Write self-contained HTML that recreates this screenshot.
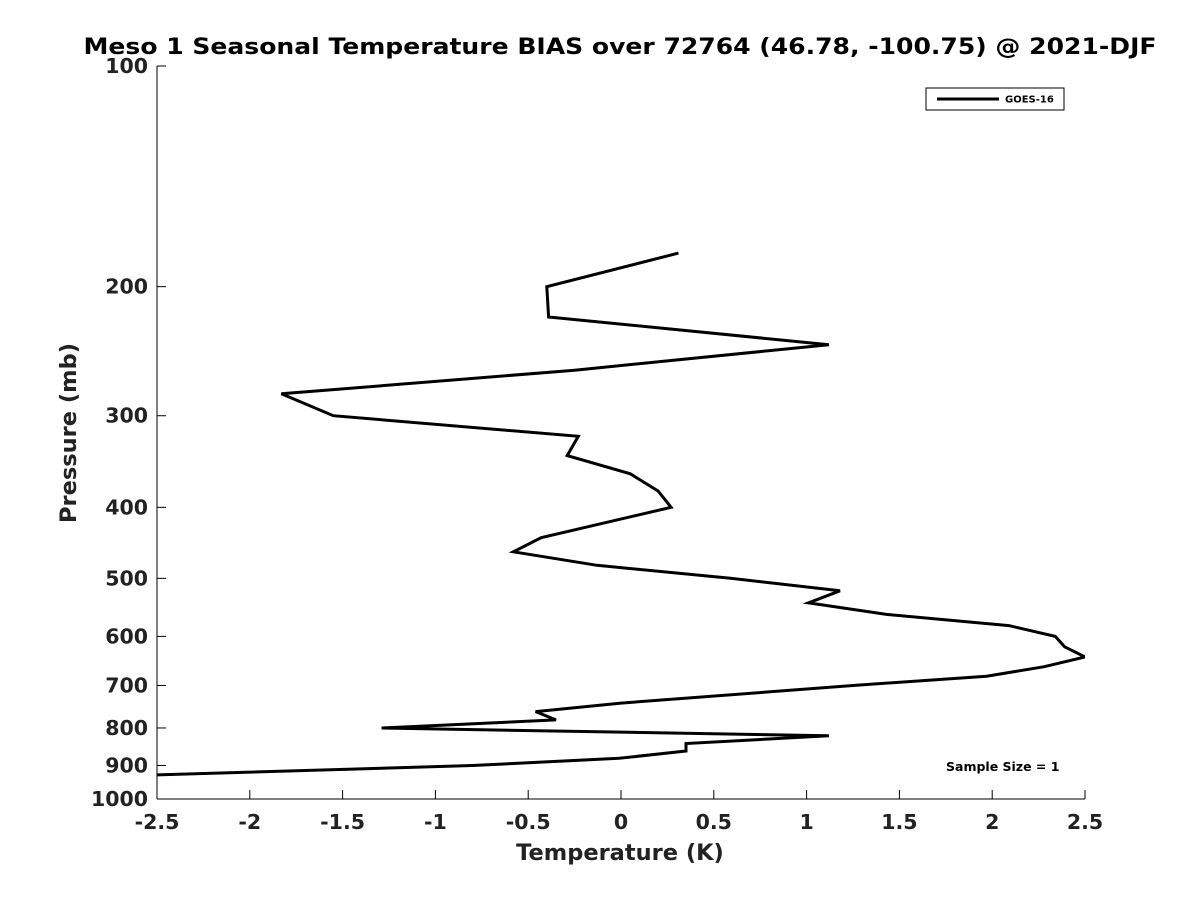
<!DOCTYPE html>
<html><head><meta charset="utf-8">
<style>
html,body{margin:0;padding:0;background:#fff;}
svg{display:block;font-family:"DejaVu Sans","Liberation Sans",sans-serif;}
</style></head>
<body>
<svg id="chart" width="1200" height="900" xmlns="http://www.w3.org/2000/svg">
  <rect x="0" y="0" width="1200" height="900" fill="#fff"/>
  <text x="620" y="54" text-anchor="middle" font-size="22" font-weight="bold" textLength="1073" lengthAdjust="spacingAndGlyphs">Meso 1 Seasonal Temperature BIAS over 72764 (46.78, -100.75) @ 2021-DJF</text>
  <defs><clipPath id="plotclip"><rect x="157" y="66" width="928" height="733"/></clipPath></defs>
  <g id="axes"></g>
  <g id="series" clip-path="url(#plotclip)"></g>
  <text x="620" y="860" text-anchor="middle" font-size="22.5" font-weight="bold" fill="#222">Temperature (K)</text>
  <text transform="translate(76,433) rotate(-90)" text-anchor="middle" font-size="22.5" font-weight="bold" fill="#222">Pressure (mb)</text>
  <g>
    <rect x="926" y="88" width="138" height="22" fill="#fff" stroke="#000" stroke-width="1"/>
    <line x1="937" y1="99" x2="999" y2="99" stroke="#000" stroke-width="3"/>
    <text x="1005" y="102.5" font-size="10" font-weight="bold">GOES-16</text>
  </g>
  <text x="946" y="771" font-size="12.5" font-weight="bold">Sample Size = 1</text>
</svg>
<script>
const xTicks = [-2.5,-2,-1.5,-1,-0.5,0,0.5,1,1.5,2,2.5];
const xTickLabels = ["-2.5","-2","-1.5","-1","-0.5","0","0.5","1","1.5","2","2.5"];
const yTicks = [100,200,300,400,500,600,700,800,900,1000];
const yTickLabels = ["100","200","300","400","500","600","700","800","900","1000"];
const pressures = [180,200,220,240,260,280,300,320,340,360,380,400,440,460,480,500,520,540,560,580,600,620,640,660,680,700,740,760,780,800,820,840,860,880,900,927];
const temps = [0.31,-0.40,-0.39,1.12,-0.25,-1.83,-1.55,-0.23,-0.29,0.05,0.20,0.27,-0.43,-0.58,-0.13,0.59,1.18,1.01,1.43,2.09,2.34,2.39,2.50,2.28,1.97,1.25,0.00,-0.46,-0.35,-1.29,1.12,0.35,0.35,-0.01,-0.80,-2.50];

const X0=157,X1=1085,Y0=66,Y1=799;
function xScale(t){return X0+(t+2.5)/5*(X1-X0);}
function yScale(p){return Y0+Math.log10(p/100)*(Y1-Y0);}
const NS="http://www.w3.org/2000/svg";
const axes=document.getElementById('axes');
function mk(tag,attrs,parent){const e=document.createElementNS(NS,tag);for(const k in attrs)e.setAttribute(k,attrs[k]);parent.appendChild(e);return e;}

const yAxis=mk('line',{x1:X0,y1:Y0,x2:X0,y2:Y1,stroke:'#000','stroke-width':1},axes);


const xAxis=mk('line',{x1:X0,y1:Y1,x2:X1,y2:Y1,stroke:'#000','stroke-width':1},axes);



xTicks.forEach((t,i)=>{
  const x=xScale(t);
  const tk=mk('line',{x1:x,y1:Y1,x2:x,y2:Y1-9,stroke:'#000','stroke-width':1},axes);
  
  
  const lb=mk('text',{x:x,y:Y1+30,'text-anchor':'middle','font-size':20.5,'font-weight':'bold',fill:'#222'},axes);
  lb.textContent=xTickLabels[i];
  
  
});
yTicks.forEach((p,i)=>{
  const y=yScale(p);
  const tk=mk('line',{x1:X0,y1:y,x2:X0+9,y2:y,stroke:'#000','stroke-width':1},axes);
  
  
  const lb=mk('text',{x:X0-9,y:y+7,'text-anchor':'end','font-size':20.5,'font-weight':'bold',fill:'#222'},axes);
  lb.textContent=yTickLabels[i];
  
  
});

const pts=pressures.map((p,i)=>xScale(temps[i]).toFixed(1)+','+yScale(p).toFixed(1)).join(' ');
const line=mk('polyline',{points:pts,fill:'none',stroke:'#000','stroke-width':3,'stroke-linejoin':'miter'},document.getElementById('series'));


</script>
</body></html>
